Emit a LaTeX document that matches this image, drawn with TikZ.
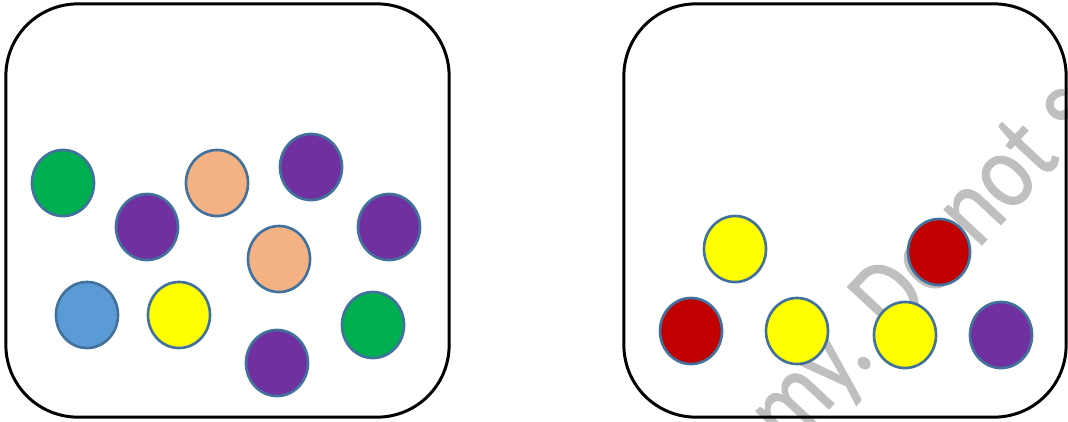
\documentclass[tikz,border=0pt]{standalone}
\usepackage{tikz}
\usepackage{fontspec}
\usetikzlibrary{shapes.geometric}
\newfontfamily\markfont[FakeBold=0.8]{Carlito}
\definecolor{ballGreen}{RGB}{0,176,80}
\definecolor{ballPurple}{RGB}{112,48,160}
\definecolor{ballPeach}{RGB}{244,177,131}
\definecolor{ballBlue}{RGB}{91,155,213}
\definecolor{ballYellow}{RGB}{255,255,0}
\definecolor{ballRed}{RGB}{192,0,0}
\definecolor{ballEdge}{RGB}{65,113,156}
\definecolor{markGray}{RGB}{191,191,191}
\tikzset{
  jar/.style={draw=black, line width=0.85pt, rounded corners=0.72cm, inner sep=0pt},
  ball/.style={ellipse, draw=ballEdge, line width=0.75pt, fill=#1, inner sep=0pt,
    minimum width=0.62cm, minimum height=0.66cm}
}

\begin{document}
\begin{tikzpicture}[x=0.01cm, y=-0.01cm]
\useasboundingbox (0,0) rectangle (1068,421);

% watermark behind the balls
\begin{scope}
\clip (0,0) rectangle (1068,421);
\node (mark) [text=markGray, rotate=47, xscale=0.82, anchor=base west, inner sep=0pt,
  font=\markfont\fontsize{31}{35}\selectfont] at (789,452) {my. Do not s};
\end{scope}

% the two jars
\node (leftjar) [jar, minimum width=4.43cm, minimum height=4.13cm] at (227.5,210.5) {};
\node (rightjar) [jar, minimum width=4.42cm, minimum height=4.13cm] at (845,210.5) {};

% left jar
\node (l1) [ball=ballGreen] at (63,183) {};
\node (l2) [ball=ballPurple] at (147,227) {};
\node (l3) [ball=ballPeach] at (217,183) {};
\node (l4) [ball=ballPurple] at (311,167) {};
\node (l5) [ball=ballPurple] at (389,227) {};
\node (l6) [ball=ballPeach] at (279,259) {};
\node (l7) [ball=ballBlue] at (87,315) {};
\node (l8) [ball=ballYellow] at (179,315) {};
\node (l9) [ball=ballPurple] at (277,363) {};
\node (l10) [ball=ballGreen] at (373,325) {};

% right jar
\node (r1) [ball=ballYellow] at (735,249) {};
\node (r2) [ball=ballRed] at (939,252) {};
\node (r3) [ball=ballRed] at (691,331) {};
\node (r4) [ball=ballYellow] at (797,331) {};
\node (r5) [ball=ballYellow] at (905,335) {};
\node (r6) [ball=ballPurple] at (1001,335) {};
\end{tikzpicture}
\end{document}
